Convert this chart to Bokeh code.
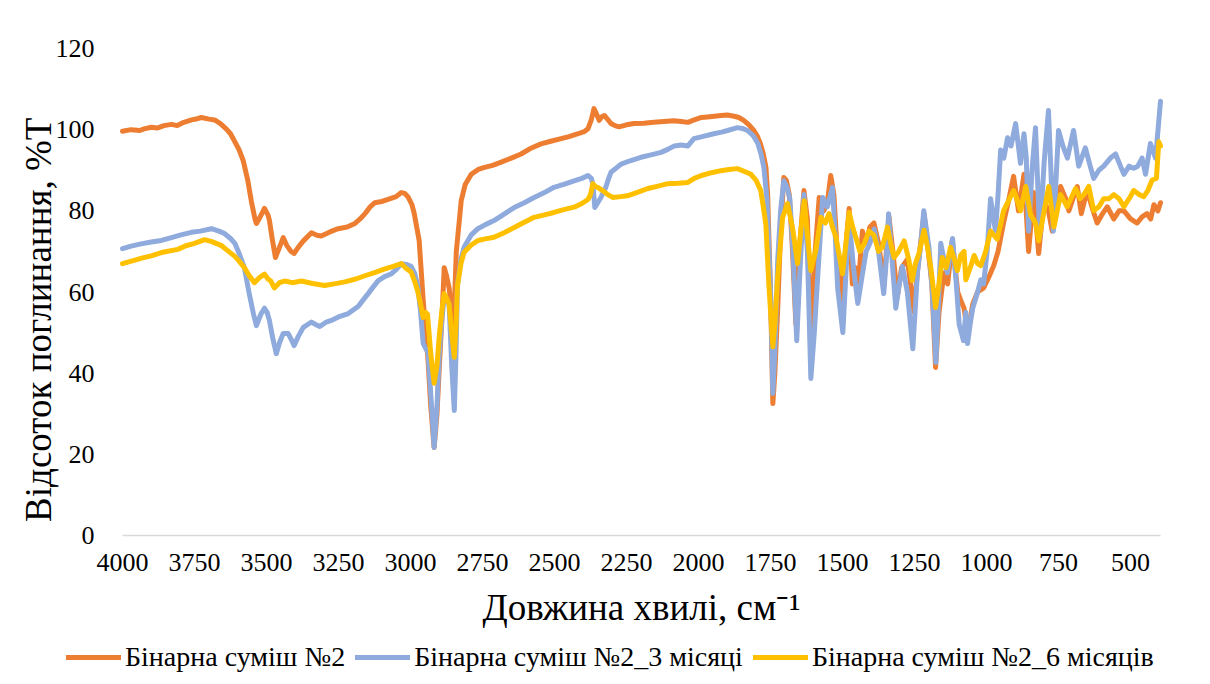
from bokeh.plotting import figure
from bokeh.models import Range1d, FixedTicker, Legend, LegendItem
from bokeh.embed import file_html
from bokeh.resources import INLINE

series_names = ["Бінарна суміш №2", "Бінарна суміш №2_3 місяці", "Бінарна суміш №2_6 місяців"]
series_colors = ["#ED7D31", "#8FAADC", "#FFC000"]

x_ticks = [4000, 3750, 3500, 3250, 3000, 2750, 2500, 2250, 2000, 1750, 1500, 1250, 1000, 750, 500]
y_ticks = [0, 20, 40, 60, 80, 100, 120]
x_axis_span = (396, 4000)
y_axis_span = (0, 120)

# (wavenumber cm-1, %T)
orange_pts = [
    (4000, 99.6), (3970, 100.0), (3940, 99.8), (3925, 100.2), (3900, 100.6), (3880, 100.4), (3856, 101.0),
    (3830, 101.3), (3810, 101.0), (3787, 101.8), (3760, 102.4), (3740, 102.7), (3726, 103.0), (3700, 102.6),
    (3680, 102.4), (3660, 101.5), (3640, 100.2), (3625, 99.0), (3612, 97.3), (3595, 95.0), (3581, 92.4),
    (3565, 87.5), (3553, 82.5), (3540, 78.0), (3535, 76.9), (3522, 78.5), (3507, 80.6), (3495, 79.0),
    (3490, 77.7), (3480, 73.0), (3469, 68.5), (3455, 71.0), (3442, 73.4), (3430, 71.5), (3415, 70.0),
    (3404, 69.5), (3390, 71.0), (3372, 72.6), (3344, 74.6), (3325, 74.0), (3310, 73.8), (3280, 74.8),
    (3251, 75.6), (3220, 76.0), (3193, 76.9), (3175, 78.0), (3158, 79.3), (3140, 81.0), (3124, 82.0),
    (3100, 82.3), (3078, 82.8), (3050, 83.5), (3032, 84.5), (3020, 84.3), (3009, 83.5), (2995, 81.5),
    (2987, 79.3), (2970, 72.7), (2956, 58.0), (2939, 43.0), (2930, 32.0), (2918, 21.7), (2908, 30.0),
    (2900, 41.4), (2890, 55.0), (2883, 66.0), (2875, 64.0), (2866, 61.0), (2858, 56.0), (2852, 49.8),
    (2846, 60.0), (2841, 70.0), (2830, 78.0), (2824, 82.5), (2810, 86.5), (2789, 89.0), (2765, 90.2),
    (2743, 90.7), (2715, 91.2), (2685, 92.0), (2650, 93.0), (2616, 94.0), (2580, 95.5), (2547, 96.5),
    (2510, 97.2), (2477, 97.8), (2450, 98.3), (2418, 99.0), (2395, 99.6), (2384, 100.2), (2372, 102.5),
    (2363, 105.2), (2352, 103.5), (2345, 102.3), (2336, 103.2), (2327, 103.5), (2315, 102.5), (2304, 101.5),
    (2290, 101.0), (2276, 100.7), (2250, 101.2), (2224, 101.5), (2190, 101.6), (2155, 101.8), (2120, 102.0),
    (2086, 102.2), (2060, 102.0), (2037, 101.8), (2015, 102.4), (1990, 103.0), (1960, 103.2), (1922, 103.5),
    (1900, 103.6), (1876, 103.3), (1860, 103.0), (1843, 102.3), (1825, 101.2), (1808, 99.8), (1795, 98.3),
    (1785, 96.5), (1775, 94.0), (1766, 90.7), (1760, 84.0), (1756, 74.4), (1750, 60.0), (1742, 32.5),
    (1735, 40.0), (1725, 56.0), (1715, 75.0), (1704, 88.2), (1695, 87.5), (1685, 84.0), (1675, 72.0),
    (1662, 52.0), (1650, 70.0), (1634, 85.0), (1622, 78.0), (1608, 45.0), (1595, 70.0), (1581, 83.3),
    (1565, 80.0), (1553, 82.0), (1541, 88.7), (1530, 84.0), (1517, 68.0), (1500, 56.0), (1490, 70.0),
    (1477, 80.6), (1466, 62.0), (1455, 66.0), (1447, 60.0), (1431, 75.0), (1418, 72.0), (1405, 76.0),
    (1391, 77.0), (1375, 72.0), (1356, 62.0), (1339, 78.6), (1325, 70.0), (1310, 58.7), (1295, 66.0),
    (1275, 68.0), (1260, 60.0), (1252, 55.0), (1240, 65.0), (1217, 79.3), (1205, 72.0), (1190, 62.0),
    (1177, 41.4), (1165, 55.0), (1148, 64.7), (1135, 62.0), (1119, 72.7), (1100, 60.0), (1090, 58.0),
    (1078, 56.0), (1066, 50.0), (1055, 54.0), (1048, 57.0), (1031, 60.0), (1010, 61.0), (990, 64.0),
    (975, 66.5), (960, 70.0), (941, 77.0), (925, 82.0), (906, 88.5), (889, 80.0), (870, 89.0),
    (854, 70.0), (836, 84.5), (819, 69.5), (801, 82.5), (785, 80.0), (772, 75.0), (755, 82.0),
    (743, 86.0), (725, 83.0), (714, 80.0), (700, 83.0), (685, 86.0), (671, 79.3), (651, 85.0),
    (630, 80.0), (616, 77.0), (600, 79.0), (581, 81.0), (558, 78.0), (540, 80.0), (523, 80.0),
    (500, 78.0), (477, 77.0), (460, 78.5), (443, 79.3), (430, 78.0), (419, 81.5), (405, 80.0), (396, 82.0),
]

blue_pts = [
    (4000, 70.7), (3970, 71.3), (3940, 71.8), (3900, 72.3), (3865, 72.7), (3830, 73.4), (3800, 74.0),
    (3761, 74.7), (3730, 75.0), (3691, 75.6), (3665, 75.0), (3646, 74.4), (3625, 73.2), (3610, 72.0),
    (3595, 69.5), (3577, 66.0), (3560, 59.6), (3545, 54.5), (3535, 51.7), (3520, 54.5), (3507, 56.0),
    (3498, 55.0), (3490, 53.0), (3478, 48.5), (3466, 44.8), (3455, 47.5), (3442, 49.8), (3425, 49.8),
    (3412, 48.0), (3404, 46.8), (3390, 49.0), (3372, 51.3), (3344, 52.6), (3330, 52.0), (3315, 51.5),
    (3295, 52.5), (3275, 53.0), (3245, 54.0), (3216, 54.7), (3181, 56.5), (3165, 58.0), (3147, 59.6),
    (3130, 61.2), (3112, 62.8), (3090, 63.8), (3066, 64.5), (3050, 65.5), (3032, 67.0), (3015, 66.8),
    (2998, 66.3), (2985, 64.5), (2975, 61.6), (2965, 55.0), (2956, 47.3), (2939, 45.0), (2928, 33.0),
    (2918, 21.7), (2908, 32.0), (2900, 45.0), (2890, 54.0), (2883, 58.7), (2875, 58.0), (2866, 57.0),
    (2857, 42.0), (2848, 30.8), (2842, 45.0), (2837, 61.6), (2825, 68.0), (2814, 71.0), (2790, 74.0),
    (2766, 75.6), (2740, 76.6), (2710, 77.6), (2675, 79.2), (2640, 80.8), (2605, 82.0), (2571, 83.3),
    (2535, 84.5), (2502, 85.8), (2468, 86.5), (2432, 87.4), (2405, 88.0), (2384, 88.7), (2372, 88.0),
    (2367, 86.6), (2360, 80.8), (2350, 82.0), (2339, 83.3), (2322, 85.8), (2312, 88.0), (2304, 89.5),
    (2285, 90.6), (2269, 91.5), (2235, 92.4), (2200, 93.2), (2165, 93.8), (2130, 94.4), (2105, 95.2),
    (2084, 96.0), (2060, 96.2), (2037, 96.0), (2016, 97.8), (1980, 98.4), (1947, 99.0), (1920, 99.4),
    (1899, 99.8), (1880, 100.2), (1865, 100.5), (1848, 100.3), (1830, 99.8), (1810, 98.5), (1794, 96.6),
    (1783, 94.0), (1773, 90.7), (1762, 82.5), (1749, 58.0), (1742, 35.0), (1735, 45.0), (1725, 68.0),
    (1715, 80.0), (1704, 87.4), (1694, 86.0), (1683, 83.0), (1672, 70.0), (1659, 48.0), (1648, 65.0),
    (1634, 84.0), (1622, 70.0), (1610, 38.7), (1598, 50.0), (1586, 64.0), (1569, 83.3), (1553, 81.0),
    (1535, 85.8), (1526, 75.0), (1517, 61.0), (1499, 50.0), (1490, 62.0), (1478, 78.6), (1462, 66.0),
    (1447, 57.2), (1432, 64.0), (1418, 70.0), (1405, 72.0), (1390, 75.5), (1375, 70.0), (1357, 59.6),
    (1348, 68.0), (1340, 79.3), (1328, 68.0), (1315, 56.0), (1303, 62.0), (1292, 66.3), (1275, 60.0),
    (1256, 46.0), (1240, 64.7), (1228, 72.0), (1218, 80.0), (1200, 71.0), (1188, 60.0), (1176, 42.6),
    (1168, 55.0), (1159, 72.0), (1148, 68.0), (1136, 64.7), (1118, 73.2), (1105, 62.0), (1095, 52.0),
    (1080, 48.0), (1072, 55.0), (1066, 47.3), (1057, 52.0), (1048, 56.0), (1031, 60.0), (1020, 63.0),
    (1010, 62.0), (998, 70.0), (986, 83.0), (969, 75.0), (960, 84.0), (951, 95.0), (940, 93.0),
    (927, 98.0), (915, 96.0), (899, 101.5), (882, 91.7), (870, 99.0), (862, 93.0), (854, 75.0),
    (842, 90.0), (830, 100.5), (815, 73.4), (800, 92.0), (785, 104.7), (768, 75.0), (750, 99.8),
    (735, 96.0), (719, 93.0), (698, 99.8), (680, 91.0), (657, 95.5), (640, 91.0), (628, 88.0),
    (610, 90.0), (593, 91.0), (570, 93.0), (552, 94.0), (535, 91.0), (523, 89.0), (505, 91.0),
    (489, 90.5), (475, 91.0), (460, 93.0), (448, 89.0), (431, 96.6), (413, 93.0), (396, 107.0),
]

yellow_pts = [
    (4000, 67.0), (3960, 67.8), (3930, 68.4), (3900, 68.9), (3860, 69.8), (3808, 70.5), (3780, 71.4),
    (3750, 72.0), (3715, 72.9), (3690, 72.4), (3658, 71.5), (3635, 70.2), (3612, 68.9), (3595, 67.6),
    (3577, 66.0), (3560, 64.0), (3542, 62.3), (3525, 63.5), (3507, 64.4), (3495, 63.2), (3485, 62.7),
    (3473, 61.0), (3455, 62.3), (3437, 62.7), (3410, 62.3), (3379, 62.7), (3340, 62.1), (3298, 61.6),
    (3265, 62.0), (3228, 62.5), (3190, 63.2), (3158, 64.0), (3120, 64.9), (3089, 65.7), (3060, 66.3),
    (3032, 67.0), (3015, 65.8), (2998, 64.9), (2985, 62.5), (2975, 60.2), (2965, 57.0), (2956, 53.7),
    (2948, 55.0), (2941, 54.5), (2930, 45.0), (2918, 37.5), (2908, 42.0), (2900, 49.3), (2890, 56.0),
    (2883, 59.6), (2875, 58.5), (2866, 57.0), (2857, 50.0), (2848, 43.9), (2842, 52.0), (2837, 61.6),
    (2825, 67.0), (2814, 69.8), (2790, 71.5), (2766, 72.7), (2740, 73.1), (2710, 73.5), (2675, 74.6),
    (2640, 75.9), (2605, 77.2), (2571, 78.4), (2535, 79.0), (2502, 79.6), (2468, 80.3), (2432, 80.9),
    (2405, 81.8), (2384, 82.8), (2375, 84.0), (2367, 86.7), (2358, 86.0), (2350, 85.8), (2333, 85.0),
    (2315, 84.0), (2298, 83.3), (2270, 83.5), (2247, 83.7), (2210, 84.6), (2176, 85.5), (2140, 86.1),
    (2107, 86.7), (2070, 86.8), (2037, 87.0), (2015, 88.0), (1990, 88.7), (1955, 89.4), (1922, 89.9),
    (1895, 90.2), (1865, 90.4), (1840, 89.7), (1818, 89.0), (1800, 87.5), (1784, 85.0), (1775, 81.0),
    (1766, 76.5), (1756, 62.0), (1742, 46.5), (1735, 52.0), (1726, 62.8), (1708, 78.4), (1691, 81.8),
    (1674, 76.0), (1656, 67.0), (1645, 75.0), (1633, 82.5), (1622, 74.0), (1610, 65.3), (1593, 70.2),
    (1575, 78.4), (1560, 77.0), (1547, 79.3), (1535, 76.0), (1523, 73.5), (1500, 64.5), (1488, 72.0),
    (1477, 79.6), (1465, 76.0), (1454, 73.5), (1440, 70.0), (1425, 71.9), (1408, 75.0), (1391, 74.0),
    (1375, 70.0), (1362, 71.0), (1344, 76.0), (1333, 72.0), (1321, 68.5), (1305, 70.0), (1286, 72.6),
    (1270, 68.0), (1258, 62.8), (1247, 67.0), (1235, 69.4), (1217, 75.2), (1205, 71.0), (1194, 66.3),
    (1177, 56.2), (1165, 62.0), (1154, 68.5), (1140, 66.0), (1125, 71.0), (1112, 68.0), (1101, 65.3),
    (1090, 69.0), (1078, 70.0), (1072, 63.0), (1055, 66.3), (1043, 69.0), (1031, 67.0), (1020, 66.5),
    (1003, 70.0), (986, 75.0), (963, 73.0), (950, 77.0), (941, 80.0), (920, 83.0), (906, 85.0),
    (895, 83.0), (882, 80.0), (864, 86.0), (847, 79.0), (830, 77.0), (819, 72.6), (800, 80.0),
    (784, 86.0), (766, 76.0), (743, 84.0), (720, 81.0), (691, 85.5), (675, 83.0), (662, 84.0),
    (645, 86.0), (628, 80.0), (610, 81.0), (593, 83.0), (575, 83.0), (558, 84.0), (540, 83.0),
    (523, 81.0), (505, 83.0), (489, 85.0), (470, 84.0), (454, 83.5), (440, 85.0), (425, 87.6),
    (410, 88.0), (402, 97.0), (396, 96.0),
]

FONT = "Liberation Serif"
LEGEND_FONT = "'Liberation Serif', serif"

# The frame fills the whole figure; axes are pinned inside it so the legend below is not clipped.
W, H = 1210, 684
left_px, right_px, top_px, bottom_px = 122, 1160, 48, 535
xpx = (right_px - left_px) / (x_axis_span[1] - x_axis_span[0])
ypx = (bottom_px - top_px) / (y_axis_span[1] - y_axis_span[0])
x_range = Range1d(x_axis_span[1] + left_px / xpx, x_axis_span[0] - (W - right_px) / xpx)
y_range = Range1d(y_axis_span[0] - (H - bottom_px) / ypx, y_axis_span[1] + top_px / ypx)

p = figure(width=W, height=H, output_backend="svg", toolbar_location=None,
           x_range=x_range, y_range=y_range,
           min_border_left=0, min_border_right=0, min_border_top=0, min_border_bottom=0)

p.outline_line_color = None
p.xgrid.visible = False
p.ygrid.visible = False
p.background_fill_color = "white"
p.border_fill_color = "white"

renderers = []
for pts, col in zip([orange_pts, blue_pts, yellow_pts], series_colors):
    xs = [a for a, b in pts]
    ys = [b for a, b in pts]
    r = p.line(xs, ys, line_color=col, line_width=5, line_join="round", line_cap="round")
    renderers.append(r)

xa = p.xaxis[0]
xa.fixed_location = y_axis_span[0]
xa.bounds = x_axis_span
xa.ticker = FixedTicker(ticks=x_ticks)
xa.major_tick_line_color = None
xa.minor_tick_line_color = None
xa.axis_line_color = "#d9d9d9"
xa.axis_line_width = 1.5
xa.major_label_text_font = FONT
xa.major_label_text_font_size = "26px"
xa.major_label_text_color = "black"
xa.major_label_standoff = 12
xa.axis_label = "Довжина хвилі, см⁻¹"
xa.axis_label_text_font = FONT
xa.axis_label_text_font_size = "37px"
xa.axis_label_text_font_style = "normal"
xa.axis_label_text_color = "black"
xa.axis_label_standoff = 13

ya = p.yaxis[0]
ya.fixed_location = x_axis_span[1]
ya.bounds = y_axis_span
ya.ticker = FixedTicker(ticks=y_ticks)
ya.major_tick_line_color = None
ya.minor_tick_line_color = None
ya.axis_line_color = None
ya.major_label_text_font = FONT
ya.major_label_text_font_size = "26px"
ya.major_label_text_color = "black"
ya.major_label_standoff = 22
ya.axis_label = "Відсоток поглинання, %Т\u00a0\u00a0\u00a0\u00a0\u00a0\u00a0"
ya.axis_label_text_font = FONT
ya.axis_label_text_font_size = "37px"
ya.axis_label_text_font_style = "normal"
ya.axis_label_text_color = "black"
ya.axis_label_standoff = -6

items = [LegendItem(label=n, renderers=[r]) for n, r in zip(series_names, renderers)]
legend = Legend(items=items, orientation="horizontal", location=(66, 11),
                label_text_font=LEGEND_FONT, label_text_font_size="28px", label_text_color="black",
                glyph_width=55, glyph_height=24, label_standoff=4, spacing=10,
                padding=0, margin=0, border_line_color=None, background_fill_alpha=0)
p.add_layout(legend, "center")

open("out.html", "w").write(file_html(p, INLINE))
